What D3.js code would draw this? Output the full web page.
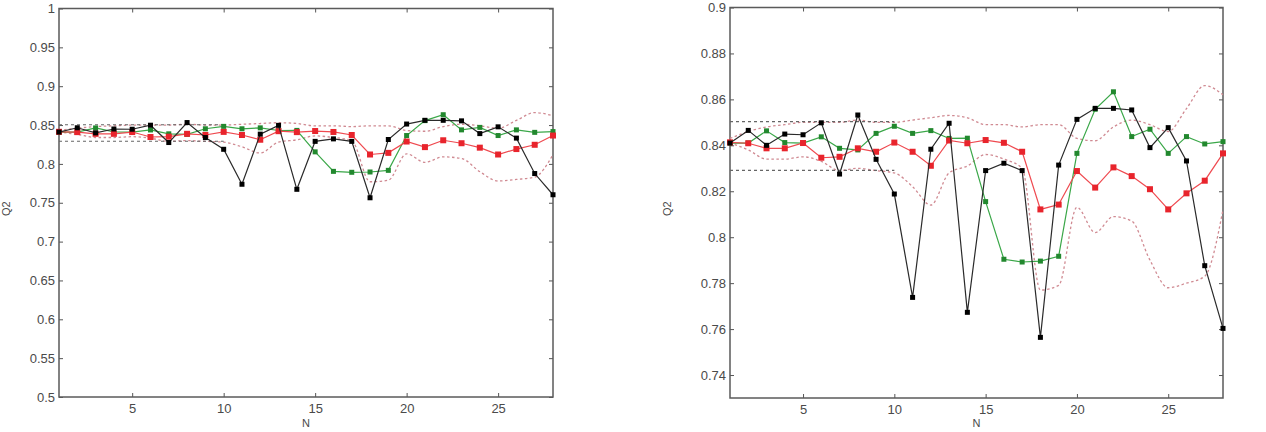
<!DOCTYPE html>
<html>
<head>
<meta charset="utf-8">
<script src="https://cdn.jsdelivr.net/npm/d3@7"></script>
<style>
    body { margin: 0; background: #fff; }
    svg { display: block; }
    .tick text { font-family: "Liberation Sans", Arial, sans-serif; font-size: 13px; fill: #4a4a4a; }
    .tick line { stroke: #555; }
    .lbl { font-family: "Liberation Sans", Arial, sans-serif; font-size: 11px; fill: #4a4a4a; }
</style>
</head>
<body>
<script>
"use strict";

// number of components N
const nValues = [1, 2, 3, 4, 5, 6, 7, 8, 9, 10, 11, 12, 13, 14, 15, 16, 17, 18, 19, 20, 21, 22, 23, 24, 25, 26, 27, 28];

// Q2 series
const blackQ2 = [0.841, 0.8465, 0.840, 0.8449, 0.8446, 0.8498, 0.8275, 0.8532, 0.8339, 0.8188,
    0.7738, 0.8383, 0.8496, 0.7673, 0.829, 0.8322, 0.829, 0.7564, 0.8314, 0.8513,
    0.8561, 0.8561, 0.8554, 0.839, 0.8477, 0.8332, 0.7876, 0.7603];
const greenQ2 = [0.841, 0.841, 0.8463, 0.8412, 0.841, 0.8437, 0.8387, 0.838, 0.8452, 0.8483,
    0.8452, 0.8464, 0.843, 0.8431, 0.8155, 0.7904, 0.7892, 0.7896, 0.7917, 0.8365,
    0.8557, 0.8633, 0.8438, 0.847, 0.8365, 0.8438, 0.8406, 0.8416];
const redQ2 = [0.8413, 0.8409, 0.8387, 0.8387, 0.841, 0.8346, 0.835, 0.8387, 0.8372, 0.8412,
    0.8372, 0.8311, 0.8421, 0.8409, 0.8423, 0.8411, 0.8372, 0.8121, 0.8142, 0.8288,
    0.8216, 0.8304, 0.8266, 0.8209, 0.8121, 0.8191, 0.8246, 0.8365];
const upperBand = [0.843, 0.846, 0.848, 0.849, 0.850, 0.850, 0.850, 0.851, 0.850, 0.850,
    0.851, 0.852, 0.853, 0.852, 0.849, 0.849, 0.848, 0.849, 0.849, 0.843,
    0.842, 0.848, 0.851, 0.849, 0.846, 0.856, 0.866, 0.862];
const lowerBand = [0.841, 0.838, 0.834, 0.834, 0.835, 0.833, 0.829, 0.830, 0.829, 0.828,
    0.822, 0.814, 0.828, 0.831, 0.836, 0.834, 0.830, 0.777, 0.779, 0.813,
    0.802, 0.809, 0.807, 0.790, 0.778, 0.780, 0.783, 0.812];

// reference levels (dashed), drawn over the first components only
const refLevels = [0.8503, 0.8291];
const refSpan = [1, 10];

const xTicks = [5, 10, 15, 20, 25];
const leftYTicks = [0.5, 0.55, 0.6, 0.65, 0.7, 0.75, 0.8, 0.85, 0.9, 0.95, 1];
const rightYTicks = [0.74, 0.76, 0.78, 0.8, 0.82, 0.84, 0.86, 0.88, 0.9];

const measurements = { width: 1266, height: 432 };

const panels = [
    { x0: 59, x1: 553, y0: 8.5, y1: 397, yDomain: [0.5, 1], yTicks: leftYTicks, yLabelX: 10 },
    { x0: 730, x1: 1223, y0: 7.5, y1: 398, yDomain: [0.73, 0.9], yTicks: rightYTicks, yLabelX: 671 }
];

const svg = d3.select("body").append("svg")
    .attr("width", measurements.width)
    .attr("height", measurements.height);

panels.forEach(drawPanel);

function drawPanel(p) {
    const scaleX = d3.scaleLinear().domain([1, 28]).range([p.x0, p.x1]);
    const scaleY = d3.scaleLinear().domain(p.yDomain).range([p.y1, p.y0]);

    const fmt = d => String(+d.toFixed(2));

    // axes, ticks pointing inward like matlab
    svg.append("g").attr("transform", `translate(0,${p.y1})`)
        .call(d3.axisBottom(scaleX).tickValues(xTicks).tickSize(-4).tickPadding(7))
        .call(g => g.select(".domain").remove());
    svg.append("g").attr("transform", `translate(0,${p.y0})`)
        .call(d3.axisTop(scaleX).tickValues(xTicks).tickSize(-4).tickFormat(""))
        .call(g => g.select(".domain").remove());
    svg.append("g").attr("transform", `translate(${p.x0},0)`)
        .call(d3.axisLeft(scaleY).tickValues(p.yTicks).tickSize(-4).tickPadding(4).tickFormat(fmt))
        .call(g => g.select(".domain").remove());
    svg.append("g").attr("transform", `translate(${p.x1},0)`)
        .call(d3.axisRight(scaleY).tickValues(p.yTicks).tickSize(-4).tickFormat(""))
        .call(g => g.select(".domain").remove());

    svg.append("rect")
        .attr("x", p.x0).attr("y", p.y0)
        .attr("width", p.x1 - p.x0).attr("height", p.y1 - p.y0)
        .attr("fill", "none").attr("stroke", "#5a5a5a").attr("stroke-width", 1.5);

    const line = (vals) => d3.line()
        .x((d, i) => scaleX(nValues[i]))
        .y(d => scaleY(d))(vals);
    const smooth = (vals) => d3.line()
        .curve(d3.curveMonotoneX)
        .x((d, i) => scaleX(nValues[i]))
        .y(d => scaleY(d))(vals);

    const plot = svg.append("g");

    // confidence bands
    [upperBand, lowerBand].forEach(b => {
        plot.append("path").attr("d", smooth(b))
            .attr("fill", "none").attr("stroke", "#d08a92")
            .attr("stroke-width", 1.3).attr("stroke-dasharray", "2.5,2.5");
    });

    // dashed reference levels
    refLevels.forEach(v => {
        plot.append("line")
            .attr("x1", scaleX(refSpan[0])).attr("x2", scaleX(refSpan[1]))
            .attr("y1", scaleY(v)).attr("y2", scaleY(v))
            .attr("stroke", "#666").attr("stroke-width", 1.1).attr("stroke-dasharray", "3,3");
    });

    const series = [
        { vals: greenQ2, line: "#3aa748", mark: "#22882e", size: 5 },
        { vals: redQ2, line: "#ef4a50", mark: "#e8242c", size: 6 },
        { vals: blackQ2, line: "#2a2a2a", mark: "#000", size: 5 }
    ];

    series.forEach(s => {
        plot.append("path").attr("d", line(s.vals))
            .attr("fill", "none").attr("stroke", s.line).attr("stroke-width", 1.2);
        plot.selectAll(null)
            .data(s.vals)
            .enter()
            .append("rect")
            .attr("x", (d, i) => scaleX(nValues[i]) - s.size / 2)
            .attr("y", d => scaleY(d) - s.size / 2)
            .attr("width", s.size).attr("height", s.size)
            .attr("fill", s.mark);
    });

    // axis titles
    svg.append("text").attr("class", "lbl")
        .attr("x", (p.x0 + p.x1) / 2).attr("y", 427)
        .attr("text-anchor", "middle").text("N");
    svg.append("text").attr("class", "lbl")
        .attr("transform", `translate(${p.yLabelX},${(p.y0 + p.y1) / 2 + 6}) rotate(-90)`)
        .attr("text-anchor", "middle").text("Q2");
}
</script>
</body>
</html>
